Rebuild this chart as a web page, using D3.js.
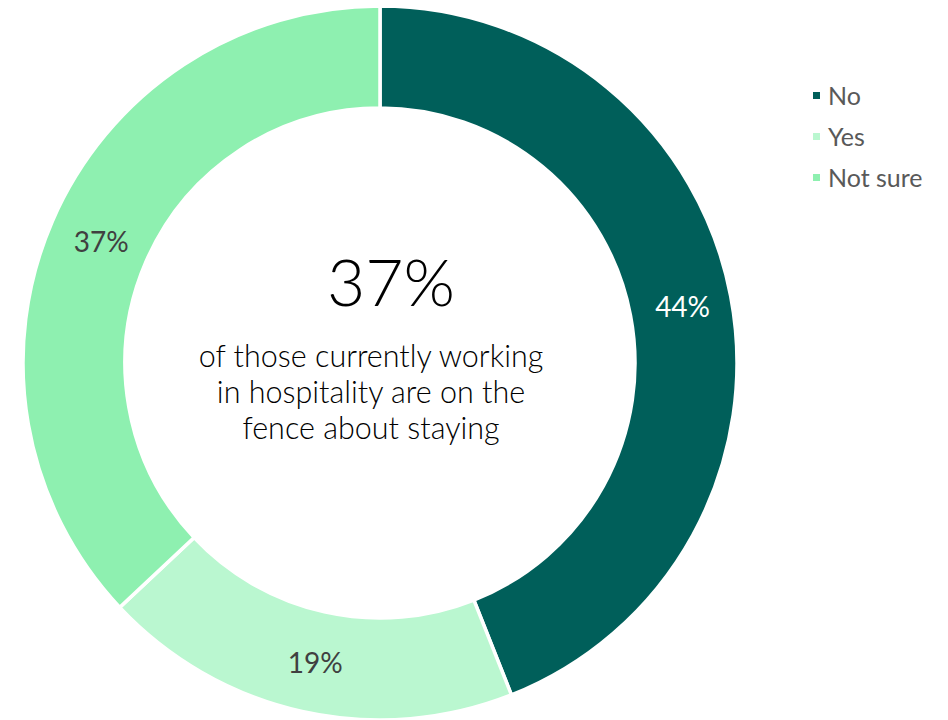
<!DOCTYPE html>
<html>
<head>
<meta charset="utf-8">
<script src="https://cdn.jsdelivr.net/npm/d3@7"></script>
<style>
  html, body { margin: 0; padding: 0; background: #fff; }
  svg { display: block; }
</style>
</head>
<body>
<svg id="chart" width="948" height="720"></svg>
<script>
// Share of respondents by answer
const categories = ["No", "Yes", "Not sure"];
const values = [44, 19, 37];
const colors = ["#005F5A", "#BAF7D0", "#8EF0B0"];
const labelColors = ["#FFFFFF", "#404040", "#404040"];
const headline = "37%";
const caption = ["of those currently working", "in hospitality are on the", "fence about staying"];

const width = 948, height = 720;
const cx = 380, cy = 363;
const outerR = 357, innerR = 255;

const svg = d3.select("#chart");
const g = svg.append("g").attr("transform", `translate(${cx},${cy})`);

const data = categories.map((c, i) => ({ category: c, value: values[i], i }));

const pie = d3.pie().value(d => d.value).sort(null);
const arc = d3.arc().innerRadius(innerR).outerRadius(outerR);
const labelArc = d3.arc().innerRadius((innerR + outerR) / 2).outerRadius((innerR + outerR) / 2);

const arcs = pie(data);

g.selectAll("path.slice")
  .data(arcs)
  .join("path")
  .attr("class", "slice")
  .attr("d", arc)
  .attr("fill", d => colors[d.data.i])
  .attr("stroke", "#fff")
  .attr("stroke-width", 3.5)
  .attr("stroke-linejoin", "miter");

g.selectAll("text.value")
  .data(arcs)
  .join("text")
  .attr("class", "value")
  .attr("transform", d => {
    const [x, y] = labelArc.centroid(d);
    return `translate(${x + 2},${y})`;
  })
  .attr("text-anchor", "middle")
  .attr("dominant-baseline", "central")
  .attr("font-family", "Lato, sans-serif")
  .attr("font-size", 28)
  .attr("fill", d => labelColors[d.data.i])
  .text(d => d.data.value + "%");

// Centre statement
g.append("text")
  .attr("x", 11)
  .attr("y", -57)
  .attr("text-anchor", "middle")
  .attr("font-family", "Lato, sans-serif")
  .attr("font-weight", 300)
  .attr("font-size", 66)
  .attr("fill", "#000")
  .text(headline);

g.selectAll("text.caption")
  .data(caption)
  .join("text")
  .attr("class", "caption")
  .attr("x", -9)
  .attr("y", (d, i) => 4 + i * 36)
  .attr("text-anchor", "middle")
  .attr("font-family", "Lato, sans-serif")
  .attr("font-weight", 300)
  .attr("font-size", 30.5)
  .attr("fill", "#000")
  .text(d => d);

// Legend
const legend = svg.append("g").attr("transform", "translate(813,95)");
const rows = legend.selectAll("g.row")
  .data(data)
  .join("g")
  .attr("class", "row")
  .attr("transform", (d, i) => `translate(0,${i * 41})`);

rows.append("rect")
  .attr("x", 0).attr("y", -3)
  .attr("width", 7).attr("height", 7)
  .attr("fill", d => colors[d.i]);

rows.append("text")
  .attr("x", 15)
  .attr("y", 0)
  .attr("dominant-baseline", "central")
  .attr("font-family", "Lato, sans-serif")
  .attr("font-size", 25)
  .attr("fill", "#595959")
  .text(d => d.category);
</script>
</body>
</html>
